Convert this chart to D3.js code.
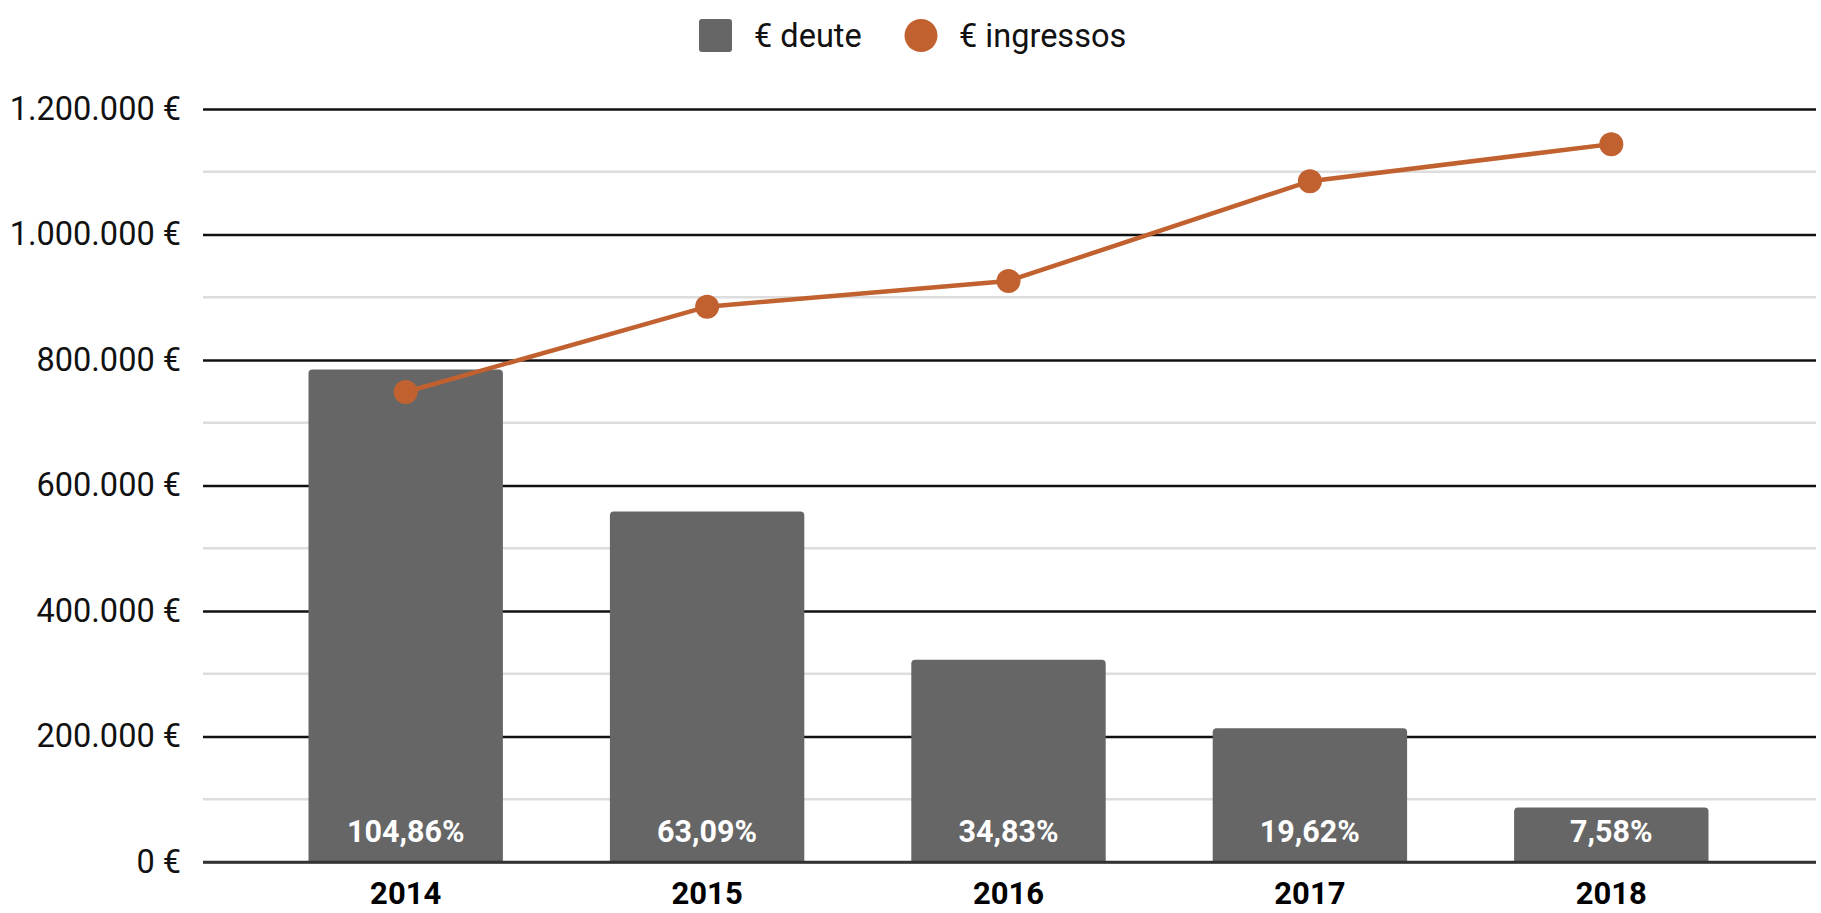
<!DOCTYPE html>
<html>
<head>
<meta charset="utf-8">
<script src="https://cdn.jsdelivr.net/npm/d3@7"></script>
<style>
body { margin:0; background:#fff; }
svg { display:block; font-family: Roboto, "Noto Sans", sans-serif; }
</style>
</head>
<body>
<div id="divcont"></div>
<script>
var years = ["2014", "2015", "2016", "2017", "2018"]
var deute = [785000, 558500, 322500, 213000, 86800]
var ingressos = [749000, 885000, 926000, 1085000, 1144000]
var pctLabels = ["104,86%", "63,09%", "34,83%", "19,62%", "7,58%"]
var yTicks = [0, 200000, 400000, 600000, 800000, 1000000, 1200000]
var minorTicks = [100000, 300000, 500000, 700000, 900000, 1100000]

var wd = 1821
var ht = 913
var gridL = 203 // left edge of gridlines
var gridR = 1816
var barCol = "#666666"
var lineCol = "#c26130"

var svg = d3.select("#divcont")
  .append("svg")
  .attr("width", wd)
  .attr("height", ht)

var yScale = d3.scaleLinear()
  .domain([0, 1200000])
  .range([862, 109])

var xScale = d3.scaleBand()
  .domain(years)
  .range([255, 1762])
  .paddingInner(0.355)
  .paddingOuter(0.1775)

// minor grid
svg.append("g").selectAll("line")
  .data(minorTicks)
  .enter().append("line")
  .attr("x1", gridL).attr("x2", gridR)
  .attr("y1", d => yScale(d)).attr("y2", d => yScale(d))
  .attr("stroke", "#dddddd")
  .attr("stroke-width", 2.5)

// major grid via axis
var yAxis = d3.axisLeft(yScale)
  .tickValues(yTicks)
  .tickSize(-(gridR - gridL))
  .tickPadding(22)
  .tickFormat(d => d3.format(",")(d).replace(/,/g, ".") + " €")

var yAx = svg.append("g")
  .attr("transform", "translate(" + gridL + ",0)")
  .call(yAxis)
yAx.select(".domain").remove()
yAx.selectAll(".tick line")
  .attr("stroke", d => d == 0 ? "#333333" : "#111111")
  .attr("stroke-width", 2.5)
yAx.selectAll(".tick text")
  .attr("x", -22)
  .style("font-size", "32.5px")
  .style("font-family", "Roboto")
  .attr("fill", "#111")

// bars, rounded top corners
var r = 4
svg.append("g").selectAll("path")
  .data(deute)
  .enter().append("path")
  .attr("fill", barCol)
  .attr("d", function(d, i) {
    var x0 = xScale(years[i]), w = xScale.bandwidth()
    var y0 = yScale(d), y1 = yScale(0)
    return "M" + x0 + "," + y1 +
      "V" + (y0 + r) +
      "Q" + x0 + "," + y0 + " " + (x0 + r) + "," + y0 +
      "H" + (x0 + w - r) +
      "Q" + (x0 + w) + "," + y0 + " " + (x0 + w) + "," + (y0 + r) +
      "V" + y1 + "Z"
  })

// redraw zero line over bars
svg.append("line")
  .attr("x1", gridL).attr("x2", gridR)
  .attr("y1", yScale(0)).attr("y2", yScale(0))
  .attr("stroke", "#333333")
  .attr("stroke-width", 2.5)

// bar labels
svg.append("g").selectAll("text")
  .data(pctLabels)
  .enter().append("text")
  .attr("x", (d, i) => xScale(years[i]) + xScale.bandwidth() / 2)
  .attr("y", yScale(0) - 20)
  .attr("text-anchor", "middle")
  .attr("fill", "#fff")
  .style("font-size", "30.5px")
  .style("font-weight", "bold")
  .text(d => d)

// line
var line = d3.line()
  .x((d, i) => xScale(years[i]) + xScale.bandwidth() / 2)
  .y(d => yScale(d))

svg.append("path")
  .datum(ingressos)
  .attr("d", line)
  .attr("fill", "none")
  .attr("stroke", lineCol)
  .attr("stroke-width", 4.5)

svg.append("g").selectAll("circle")
  .data(ingressos)
  .enter().append("circle")
  .attr("cx", (d, i) => xScale(years[i]) + xScale.bandwidth() / 2)
  .attr("cy", d => yScale(d))
  .attr("r", 12)
  .attr("fill", lineCol)

// x axis labels (kept just inside the bottom edge)
var xAxis = d3.axisBottom(xScale).tickSize(0).tickPadding(20)
var xAx = svg.append("g")
  .attr("transform", "translate(0," + yScale(0) + ")")
  .call(xAxis)
xAx.select(".domain").remove()
xAx.selectAll(".tick text")
  .style("font-size", "31px")
  .style("font-weight", "bold")
  .style("font-family", "Roboto")
  .attr("fill", "#000")

// legend
var lg = svg.append("g")
lg.append("rect")
  .attr("x", 699).attr("y", 19)
  .attr("width", 33).attr("height", 33)
  .attr("rx", 3)
  .attr("fill", barCol)
lg.append("text")
  .attr("x", 754).attr("y", 47)
  .style("font-size", "32.5px")
  .attr("fill", "#111")
  .text("€ deute")
lg.append("circle")
  .attr("cx", 921).attr("cy", 35.5)
  .attr("r", 16.5)
  .attr("fill", lineCol)
lg.append("text")
  .attr("x", 959).attr("y", 47)
  .style("font-size", "32.5px")
  .attr("fill", "#111")
  .text("€ ingressos")
</script>
</body>
</html>
